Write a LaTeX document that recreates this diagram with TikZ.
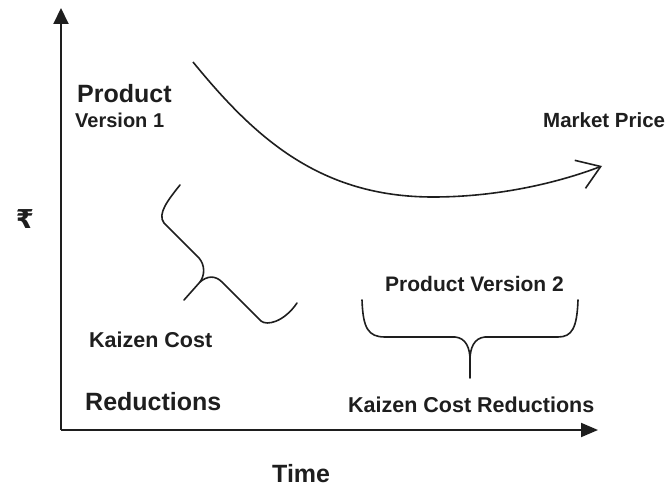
\documentclass[tikz,border=0pt]{standalone}
\usepackage{fontspec}
\setmainfont{Liberation Sans}
\newfontfamily\rupeefont{DejaVu Sans}
\usetikzlibrary{arrows.meta}
\definecolor{ink}{HTML}{1E1E1E}
\tikzset{
  axis/.style={line width=2pt, draw=ink},
  curve/.style={line width=1.6pt, draw=ink},
  brace/.style={line width=1.6pt, draw=ink, line join=round, line cap=round},
  lbl/.style={anchor=base west, inner sep=0pt, text=ink, font=\bfseries},
}
\begin{document}
\begin{tikzpicture}[x=1pt, y=-1pt]
\useasboundingbox (0,0) rectangle (669,489);

% axes
\coordinate (O) at (61,430);
\coordinate (ytop) at (61,8);
\coordinate (xend) at (598,430);
\draw[axis, -{Triangle[length=16pt,width=15pt]}] (O) -- (ytop);
\draw[axis, -{Triangle[length=17pt,width=14pt]}] (O) -- (xend);

% market price curve
\coordinate (c0) at (193,62);
\coordinate (c1) at (433,197);
\coordinate (c2) at (602,166);
\draw[curve, -{Straight Barb[length=22pt,width=30pt,line width=1.6pt]}]
  (c0) .. controls (255,138) and (320,197) .. (c1)
       .. controls (500,197) and (560,182) .. (c2);

% first brace (tilted)
\coordinate (b1s) at (180,185);
\coordinate (b1tip) at (184,300);
\coordinate (b1j) at (200,282);
\coordinate (b1e) at (297,303);
\draw[brace] (b1s) .. controls (168,200) and (157,214) .. (164,223)
  -- (199,258) .. controls (205,265) and (205,275) .. (b1j) -- (b1tip);
\draw[brace] (b1j) .. controls (207,276) and (215,275) .. (222,282)
  -- (261,321) .. controls (267,326) and (284,322) .. (b1e);

% second brace
\coordinate (b2s) at (362,300);
\coordinate (b2m) at (470,360);
\coordinate (b2tip) at (470,378);
\coordinate (b2e) at (578,300);
\draw[brace] (b2s) .. controls (363,328) and (368,337) .. (385,337)
  -- (455,337) .. controls (466,338) and (470,348) .. (b2m) -- (b2tip);
\draw[brace] (b2m) .. controls (470,348) and (474,338) .. (485,337)
  -- (558,337) .. controls (572,337) and (577,328) .. (b2e);

% labels
\node[lbl, font=\bfseries\fontsize{25}{25}\selectfont] (prod) at (77,103) {Product};
\node[lbl, font=\bfseries\fontsize{20}{20}\selectfont] (ver1) at (75,128) {Version 1};
\node[lbl, font=\bfseries\fontsize{20.5}{20.5}\selectfont] (mkt) at (543,128) {Market Price};
\node[anchor=center, inner sep=0pt, text=ink, font=\rupeefont\bfseries\fontsize{26}{26}\selectfont] (cur) at (25,219) {₹};
\node[lbl, font=\bfseries\fontsize{21.5}{21.5}\selectfont] (kc) at (89,347) {Kaizen Cost};
\node[lbl, font=\bfseries\fontsize{25}{25}\selectfont] (red) at (85,410) {Reductions};
\node[lbl, font=\bfseries\fontsize{25}{25}\selectfont] (time) at (272,482) {Time};
\node[lbl, font=\bfseries\fontsize{21}{21}\selectfont] (pv2) at (385,291) {Product Version 2};
\node[lbl, font=\bfseries\fontsize{21.5}{21.5}\selectfont] (kcr) at (348,412) {Kaizen Cost Reductions};
\end{tikzpicture}
\end{document}
